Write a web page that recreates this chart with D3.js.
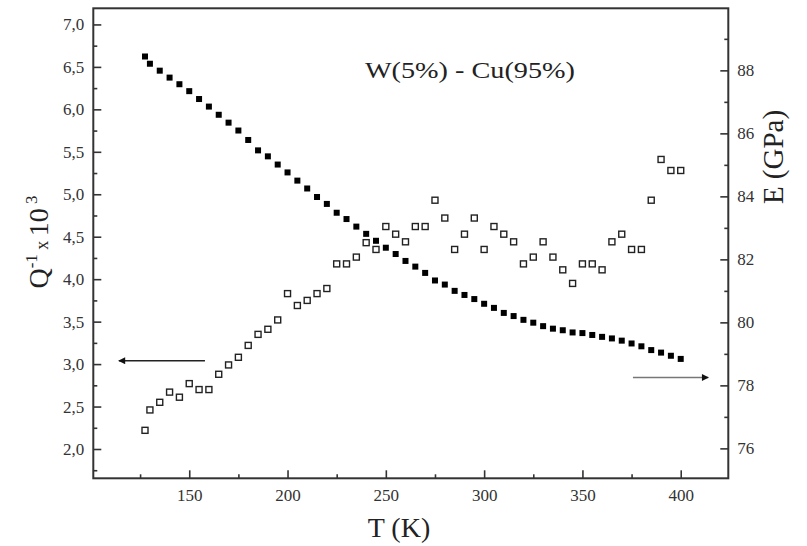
<!DOCTYPE html>
<html><head><meta charset="utf-8">
<script src="https://cdn.jsdelivr.net/npm/d3@7"></script>
<style>body{margin:0;background:#fff}svg{display:block}</style>
</head><body><svg id="c" width="807" height="546"></svg>
<script>
const temps = [127.5,130,135,140,145,150,155,160,165,170,175,180,185,190,195,200,205,210,215,220,225,230,235,240,245,250,255,260,265,270,275,280,285,290,295,300,305,310,315,320,325,330,335,340,345,350,355,360,365,370,375,380,385,390,395,400];
const modulusE = [88.44,88.21,87.99,87.77,87.56,87.34,87.09,86.85,86.59,86.34,86.09,85.79,85.46,85.27,85.01,84.76,84.50,84.25,83.98,83.76,83.48,83.28,83.04,82.81,82.59,82.37,82.17,81.95,81.77,81.57,81.33,81.20,81.00,80.87,80.74,80.59,80.46,80.30,80.20,80.08,79.99,79.88,79.80,79.75,79.68,79.66,79.60,79.54,79.49,79.42,79.33,79.24,79.12,79.04,78.94,78.84];
const dampingQ = [2.22,2.46,2.55,2.67,2.61,2.77,2.70,2.70,2.88,2.99,3.08,3.22,3.35,3.41,3.52,3.83,3.69,3.75,3.83,3.89,4.18,4.18,4.26,4.43,4.35,4.62,4.53,4.44,4.62,4.62,4.93,4.72,4.35,4.53,4.72,4.35,4.62,4.53,4.44,4.18,4.26,4.44,4.26,4.11,3.95,4.18,4.18,4.11,4.44,4.53,4.35,4.35,4.93,5.41,5.28,5.28];
const xTicks = [150,200,250,300,350,400];
const xMinor = [125,175,225,275,325,375];
const qTicks = [2.0,2.5,3.0,3.5,4.0,4.5,5.0,5.5,6.0,6.5,7.0];
const qMinor = [1.75,2.25,2.75,3.25,3.75,4.25,4.75,5.25,5.75,6.25,6.75];
const eTicks = [76,78,80,82,84,86,88];
const eMinor = [77,79,81,83,85,87,89];
const leftArrow = {t0:158, t1:114.2, q:3.04};
const rightArrow = {t0:375.7, t1:414, e:78.25};
const title = "W(5%) - Cu(95%)";

const svg = d3.select("#c");
const L=93.3, R=728.3, T=8.3, B=478.3;
const x = d3.scaleLinear().domain([101.2,424.2]).range([L,R]);
const yL = d3.scaleLinear().domain([1.655,7.19]).range([B,T]);
const yR = d3.scaleLinear().domain([75.05,89.97]).range([B,T]);
const font = "'Liberation Serif','Times New Roman',serif";
const comma = d => d3.format(".1f")(d).replace(".",",");

function styleAxis(g){
  g.select(".domain").remove();
  g.selectAll("line").attr("stroke","#333").attr("stroke-width",1.6);
  g.selectAll("text").attr("font-family",font).attr("font-size",17).attr("fill","#333");
}
svg.append("g").attr("transform",`translate(0,${B})`)
  .call(d3.axisBottom(x).tickValues(xTicks).tickSize(-8).tickPadding(11).tickFormat(d3.format("d"))).call(styleAxis);
svg.append("g").attr("transform",`translate(0,${B})`)
  .call(d3.axisBottom(x).tickValues(xMinor).tickSize(-4).tickFormat("")).call(styleAxis);
svg.append("g").attr("transform",`translate(${L},0)`)
  .call(d3.axisLeft(yL).tickValues(qTicks).tickSize(-8).tickPadding(9).tickFormat(comma)).call(styleAxis);
svg.append("g").attr("transform",`translate(${L},0)`)
  .call(d3.axisLeft(yL).tickValues(qMinor).tickSize(-4).tickFormat("")).call(styleAxis);
svg.append("g").attr("transform",`translate(${R},0)`)
  .call(d3.axisRight(yR).tickValues(eTicks).tickSize(-8).tickPadding(9).tickFormat(d3.format("d"))).call(styleAxis);
svg.append("g").attr("transform",`translate(${R},0)`)
  .call(d3.axisRight(yR).tickValues(eMinor).tickSize(-4).tickFormat("")).call(styleAxis);

svg.append("rect").attr("x",L).attr("y",T).attr("width",R-L).attr("height",B-T)
  .attr("fill","none").attr("stroke","#333").attr("stroke-width",2);

// open squares: Q^-1
const s=6;
svg.append("g").selectAll("rect").data(temps).join("rect")
  .attr("x",(d,i)=>x(d)-s/2).attr("y",(d,i)=>yL(dampingQ[i])-s/2)
  .attr("width",s).attr("height",s).attr("fill","#fff").attr("stroke","#222").attr("stroke-width",1.4);
// filled squares: E
svg.append("g").selectAll("rect").data(temps).join("rect")
  .attr("x",(d,i)=>x(d)-3).attr("y",(d,i)=>yR(modulusE[i])-3)
  .attr("width",6).attr("height",6).attr("fill","#000");

// arrows
const defs = svg.append("defs");
defs.append("marker").attr("id","ah").attr("viewBox","0 0 10 10").attr("refX",9).attr("refY",5)
  .attr("markerWidth",12).attr("markerHeight",7).attr("markerUnits","userSpaceOnUse").attr("orient","auto")
  .append("path").attr("d","M0,0L10,5L0,10z").attr("fill","#111");
svg.append("line").attr("x1",x(leftArrow.t0)).attr("x2",x(leftArrow.t1))
  .attr("y1",yL(leftArrow.q)).attr("y2",yL(leftArrow.q))
  .attr("stroke","#222").attr("stroke-width",1.5).attr("marker-end","url(#ah)");
svg.append("line").attr("x1",x(rightArrow.t0)).attr("x2",x(rightArrow.t1))
  .attr("y1",yR(rightArrow.e)).attr("y2",yR(rightArrow.e))
  .attr("stroke","#777").attr("stroke-width",1.5).attr("marker-end","url(#ah)");

// annotation
svg.append("text").attr("x",x(292.8)).attr("y",yL(6.37)).attr("text-anchor","middle")
  .attr("font-family",font).attr("font-size",24).attr("fill","#222")
  .attr("textLength",210).attr("lengthAdjust","spacingAndGlyphs").text(title);

// x title
svg.append("text").attr("x",399).attr("y",537).attr("text-anchor","middle")
  .attr("font-family",font).attr("font-size",28).attr("fill","#222").text("T (K)");

// left title
const lt = svg.append("text").attr("transform","translate(48,242) rotate(-90)").attr("text-anchor","middle")
  .attr("font-family",font).attr("fill","#222");
lt.append("tspan").attr("font-size",28).text("Q");
lt.append("tspan").attr("font-size",17).attr("dy",-11).text("-1");
lt.append("tspan").attr("font-size",18).attr("dy",11).text(" x ");
lt.append("tspan").attr("font-size",28).text("10");
lt.append("tspan").attr("font-size",17).attr("dy",-11).text(" 3");

// right title
svg.append("text").attr("transform","translate(783,157) rotate(-90)").attr("text-anchor","middle")
  .attr("font-family",font).attr("font-size",29).attr("fill","#222").text("E (GPa)");
</script></body></html>
